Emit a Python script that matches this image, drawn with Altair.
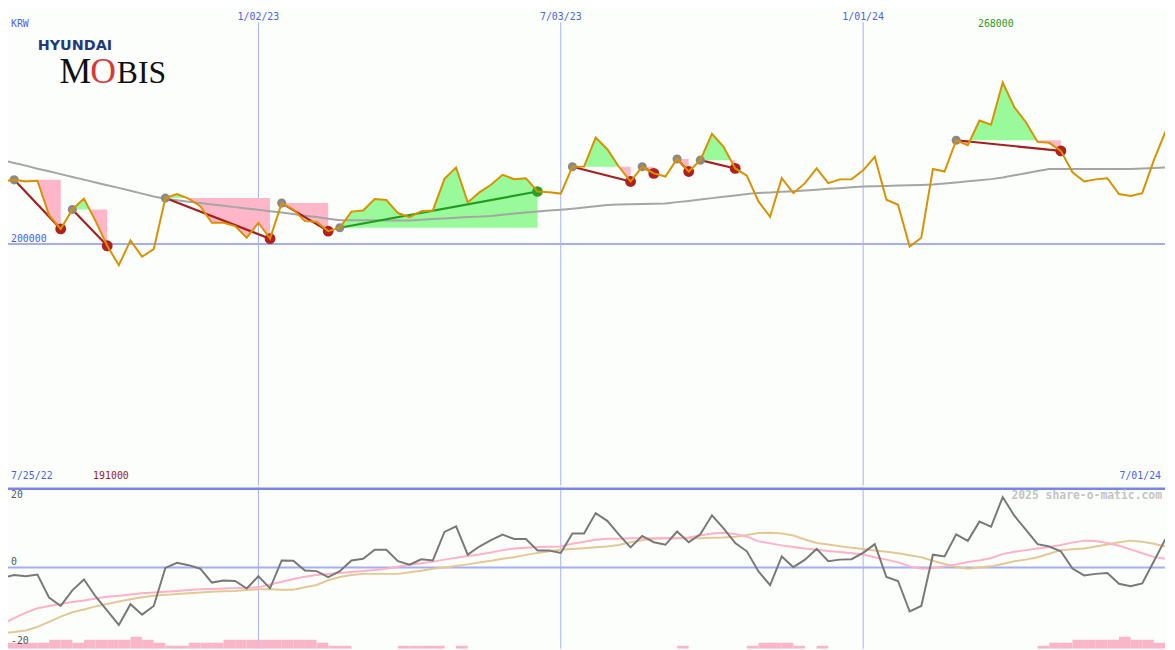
import altair as alt
import pandas as pd

# ---------------- data (weekly, 7/25/22 .. 7/01/24) ----------------
weeks = list(range(102))
price_k = [225.5, 226.3, 227.0, 226.3, 226.6, 212.1, 206.3, 214.5, 219.1, 209.6,
           199.2, 191.0, 201.5, 194.6, 197.8, 219.3, 221.0, 219.1, 215.9, 208.9,
           208.9, 207.5, 202.6, 208.9, 202.2, 217.2, 214.5, 209.6, 209.3, 205.4,
           206.8, 213.6, 214.1, 218.9, 218.5, 213.0, 211.3, 213.8, 214.1, 227.4,
           232.2, 217.5, 221.7, 224.9, 229.1, 227.3, 227.7, 222.1, 221.8, 221.2,
           232.5, 232.6, 244.8, 239.9, 232.5, 226.3, 232.5, 229.7, 228.4, 235.8,
           230.5, 235.3, 246.4, 240.9, 231.8, 228.8, 217.9, 211.4, 227.7, 221.4,
           225.6, 231.8, 225.6, 227.2, 227.2, 231.0, 236.7, 218.6, 216.5, 198.9,
           202.6, 231.6, 230.5, 243.7, 241.6, 252.0, 250.2, 268.0, 257.6, 251.3,
           243.0, 242.6, 239.2, 230.2, 226.3, 227.2, 227.7, 221.0, 220.2, 221.4,
           235.3, 247.4]
ma_k = [236.5, 235.3, 234.1, 233.0, 231.7, 230.6, 229.4, 228.2, 227.1, 225.9,
        224.7, 223.6, 222.4, 221.2, 220.0, 219.0, 218.4, 217.8, 217.2, 216.6,
        216.1, 215.5, 214.9, 214.4, 213.8, 213.2, 212.6, 211.9, 211.3, 210.6,
        210.0, 210.0, 210.0, 210.0, 209.9, 209.9, 209.9, 210.2, 210.5, 210.7,
        211.0, 211.3, 211.5, 211.8, 212.3, 212.8, 213.2, 213.7, 214.1, 214.4,
        214.8, 215.3, 215.9, 216.4, 216.6, 216.7, 216.8, 216.9, 217.0, 217.6,
        218.1, 218.7, 219.3, 219.9, 220.4, 221.0, 221.5, 221.7, 222.0, 222.2,
        222.5, 222.8, 223.2, 223.5, 223.9, 224.2, 224.3, 224.4, 224.6, 224.7,
        224.8, 225.0, 225.5, 225.9, 226.4, 226.8, 227.3, 228.0, 228.9, 229.8,
        230.7, 231.6, 231.6, 231.6, 231.6, 231.6, 231.6, 231.6, 231.6, 231.8,
        232.0, 232.2]
momentum = [-2.8, -2.6, -1.9, -2.2, -1.75, -7.6, -9.7, -5.75, -3.0, -7.3,
            -10.9, -14.5, -9.25, -11.9, -9.7, -0.1, 1.2, 0.6, -0.3, -3.8,
            -3.25, -3.4, -5.3, -2.2, -5.25, 1.8, 1.7, -0.75, -0.9, -2.4,
            -0.9, 1.8, 2.2, 4.5, 4.5, 1.6, 0.75, 2.1, 1.8, 9.0,
            10.4, 3.25, 5.3, 6.9, 8.3, 7.2, 7.2, 4.3, 4.3, 3.7,
            8.6, 8.6, 13.75, 11.8, 8.3, 5.1, 8.0, 6.4, 5.75, 9.1,
            6.4, 8.4, 13.2, 9.9, 6.2, 4.1, -1.0, -4.45, 2.8, 0.1,
            2.0, 4.7, 1.6, 2.0, 2.1, 3.7, 5.9, -2.4, -3.4, -11.1,
            -9.7, 3.25, 2.8, 8.4, 6.75, 11.6, 10.3, 17.8, 13.1, 9.5,
            5.9, 5.3, 4.1, -0.25, -2.0, -1.6, -1.4, -4.1, -4.7, -4.0,
            1.6, 7.25]
mom_fast = [-15.5, -14.2, -12.8, -11.4, -10.3, -9.7, -9.2, -8.7, -8.3, -7.8,
            -7.4, -7.1, -6.8, -6.5, -6.3, -6.1, -5.9, -5.7, -5.5, -5.4,
            -5.3, -5.2, -5.1, -5.0, -4.3, -3.6, -2.9, -2.3, -1.9, -1.6,
            -1.4, -1.1, -0.9, -0.6, -0.3, 0.2, 0.7, 1.1, 1.5, 2.0,
            2.5, 2.9, 3.3, 3.8, 4.4, 4.8, 5.0, 5.2, 5.25, 5.3,
            6.0, 6.5, 7.0, 7.25, 7.3, 7.4, 7.4, 7.4, 7.4, 7.4,
            7.6, 8.1, 8.6, 8.8, 8.5, 7.8, 6.6, 6.1, 5.6, 5.2,
            4.8, 4.5, 4.2, 3.9, 3.6, 3.3, 2.6, 2.0, 1.3, 0.3,
            -0.3, -0.1, 0.3, 0.8, 1.4, 1.8, 2.4, 3.4, 4.0, 4.4,
            4.8, 5.2, 5.7, 6.3, 6.8, 6.7, 6.2, 5.5, 4.6, 3.6,
            2.7, 2.2]
mom_slow = [-16.8, -16.6, -16.3, -15.9, -15.0, -13.7, -12.4, -11.3, -10.6, -9.8,
            -9.2, -8.6, -8.0, -7.5, -7.1, -6.9, -6.7, -6.5, -6.3, -6.1,
            -6.0, -5.9, -5.7, -5.5, -5.5, -5.6, -5.6, -5.0, -4.4, -3.2,
            -2.4, -1.9, -1.6, -1.6, -1.6, -1.6, -1.2, -0.8, -0.3, 0.0,
            0.4, 0.8, 1.3, 1.7, 2.2, 2.6, 3.2, 3.7, 4.1, 4.5,
            4.7, 4.9, 5.1, 5.3, 5.7, 6.4, 6.9, 7.3, 7.4, 7.4,
            7.4, 7.4, 7.5, 7.6, 7.8, 8.2, 8.7, 8.8, 8.6, 8.1,
            7.1, 6.2, 5.8, 5.4, 5.0, 4.7, 4.3, 4.0, 3.6, 3.1,
            2.6, 1.7, 0.9, 0.2, -0.3, 0.0, 0.3, 0.9, 1.6, 2.0,
            2.6, 3.5, 4.4, 4.6, 4.8, 5.3, 5.8, 6.4, 6.8, 6.5,
            6.0, 5.3]
bar_level = [2, 2, 2, 2, 2, 3, 3, 2, 3, 3,
             3, 3, 4, 3, 2, 1, 1, 2, 2, 2,
             3, 3, 3, 3, 3, 3, 3, 3, 2, 1,
             1, 0, 0, 0, 0, 1, 1, 1, 1, 0,
             1, 0, 0, 0, 0, 0, 0, 0, 0, 0,
             0, 0, 0, 0, 0, 0, 0, 0, 0, 1,
             0, 0, 0, 0, 0, 1, 2, 2, 2, 1,
             0, 1, 0, 0, 0, 0, 0, 0, 0, 0,
             0, 0, 0, 0, 0, 0, 0, 0, 0, 0,
             1, 2, 2, 3, 3, 3, 3, 4, 3, 3,
             2, 2]
seg_start = [2, 7, 15, 25, 30, 50, 56, 59, 61, 83]
seg_end = [6, 10, 24, 29, 47, 55, 57, 60, 64, 92]
grid_weeks = [23, 49, 75]
grid_labels = ["1/02/23", "7/03/23", "1/01/24"]
price_ticks = [200]
price_tick_labels = ["200000"]
first_label, last_label = "7/25/22", "7/01/24"
osc_labels = ["20", "0", "-20"]

# ---------------- layout ----------------
# The page has an 8px margin; a negative padding shifts the drawing so that
# chart coordinates coincide with window coordinates.
W, HT, HB = 1175, 487, 163
MONO = "DejaVu Sans Mono"
BG = "#fcfefc"
GRID = "#a4aef2"
SEP = "#7886e6"
BLUE_TXT = "#4c5ff0"
LX = 9  # left text inset (inside the visible area)

xs = alt.Scale(domain=[11.25 / 11.75, (1175 + 11.25) / 11.75], nice=False, zero=False)
ys_top = alt.Scale(domain=[98.206, 301.377], nice=False, zero=False)
ys_bot = alt.Scale(domain=[-20.5, 20.25], nice=False, zero=False)
ys_bar = alt.Scale(domain=[0, 163 / 3.0], nice=False, zero=False)


def X(f):
    return alt.X(f, type="quantitative", scale=xs, axis=None)


def YT(f):
    return alt.Y(f, type="quantitative", scale=ys_top, axis=None)


def YB(f):
    return alt.Y(f, type="quantitative", scale=ys_bot, axis=None)


df = pd.DataFrame({"w": weeks, "price": price_k, "ma": ma_k, "mom": momentum,
                   "fast": mom_fast, "slow": mom_slow, "level": bar_level})
grid_df = pd.DataFrame({"w": grid_weeks, "label": grid_labels})

# fills between the trend start level and the price line
fill_rows, seg_rows, dot_rows = [], [], []
for sid, (s, e) in enumerate(zip(seg_start, seg_end)):
    lvl = price_k[s]
    for k in range(s, e + 1):
        fill_rows.append({"seg": sid, "w": k, "p": price_k[k], "lvl": lvl})
        if k < e:
            a, b = price_k[k] - lvl, price_k[k + 1] - lvl
            if a * b < 0:
                fill_rows.append({"seg": sid, "w": k + a / (a - b), "p": lvl, "lvl": lvl})
    d = "up" if price_k[e] > price_k[s] else "down"
    seg_rows += [{"seg": sid, "w": s, "p": price_k[s], "dir": d},
                 {"seg": sid, "w": e, "p": price_k[e], "dir": d}]
    dot_rows += [{"w": s, "p": price_k[s], "kind": "start"},
                 {"w": e, "p": price_k[e], "kind": "end_" + d}]
fill = pd.DataFrame(fill_rows)
fill["hi"] = fill[["p", "lvl"]].max(axis=1)
fill["lo"] = fill[["p", "lvl"]].min(axis=1)
seg_df = pd.DataFrame(seg_rows)
dot_df = pd.DataFrame(dot_rows)

# ---------------- top panel ----------------
vrules_top = alt.Chart(grid_df).mark_rule(color=GRID, strokeWidth=1).encode(
    x=X("w"), y=alt.value(19), y2=alt.value(HT))
hline = alt.Chart(pd.DataFrame({"p": price_ticks, "label": price_tick_labels})).mark_rule(
    color=GRID, strokeWidth=2).encode(y=YT("p"))
green_fill = alt.Chart(fill).mark_area(color="#98fa98", opacity=1).encode(
    x=X("w"), y=YT("hi"), y2="lvl", detail="seg:N")
pink_fill = alt.Chart(fill).mark_area(color="#ffb6c8", opacity=1).encode(
    x=X("w"), y=YT("lo"), y2="lvl", detail="seg:N")
ma_line = alt.Chart(df).mark_line(color="#a5a5a5", strokeWidth=2, clip=True).encode(
    x=X("w"), y=YT("ma"))
trend_down = alt.Chart(seg_df).transform_filter("datum.dir == 'down'").mark_line(
    strokeWidth=2.2, color="#a51f1f").encode(x=X("w"), y=YT("p"), detail="seg:N")
trend_up = alt.Chart(seg_df).transform_filter("datum.dir == 'up'").mark_line(
    strokeWidth=2.2, color="#239b23").encode(x=X("w"), y=YT("p"), detail="seg:N")
dots_start = alt.Chart(dot_df).transform_filter("datum.kind == 'start'").mark_circle(
    opacity=1, color="#8a8a8a", size=85).encode(x=X("w"), y=YT("p"))
dots_down = alt.Chart(dot_df).transform_filter("datum.kind == 'end_down'").mark_circle(
    opacity=1, color="#b02020", size=120).encode(x=X("w"), y=YT("p"))
dots_up = alt.Chart(dot_df).transform_filter("datum.kind == 'end_up'").mark_circle(
    opacity=1, color="#2a9d2a", size=115).encode(x=X("w"), y=YT("p"))
price_line = alt.Chart(df).mark_line(color="#d99100", strokeWidth=2, clip=True).encode(
    x=X("w"), y=YT("price"))

date_txt = alt.Chart(grid_df).mark_text(font=MONO, fontSize=10, color=BLUE_TXT, baseline="middle").encode(
    x=X("w"), y=alt.value(13.5), text="label:N")
tick_txt = alt.Chart(pd.DataFrame({"p": price_ticks, "label": price_tick_labels})).mark_text(
    font=MONO, fontSize=10, color=BLUE_TXT, align="left", baseline="middle", dy=-5).encode(
    x=alt.value(LX), y=YT("p"), text="label:N")
krw_txt = alt.Chart(pd.DataFrame({"t": ["KRW"]})).mark_text(
    font=MONO, fontSize=10, color=BLUE_TXT, align="left", baseline="middle").encode(
    x=alt.value(LX), y=alt.value(21), text="t:N")
imax = price_k.index(max(price_k))
imin = price_k.index(min(price_k))
hi_df = pd.DataFrame({"w": [imax], "t": [str(int(round(max(price_k) * 1000)))]})
lo_df = pd.DataFrame({"w": [imin], "t": [str(int(round(min(price_k) * 1000)))]})
hi_txt = alt.Chart(hi_df).mark_text(font=MONO, fontSize=10, color="#2a9a2a", baseline="middle", dx=-7).encode(
    x=X("w"), y=alt.value(21), text="t:N")
lo_txt = alt.Chart(lo_df).mark_text(font=MONO, fontSize=10, color="#9b1c1c", baseline="middle", dx=-8).encode(
    x=X("w"), y=alt.value(478), text="t:N")
first_txt = alt.Chart(pd.DataFrame({"t": [first_label]})).mark_text(
    font=MONO, fontSize=10, color=BLUE_TXT, align="left", baseline="middle").encode(
    x=alt.value(LX), y=alt.value(478), text="t:N")
last_txt = alt.Chart(pd.DataFrame({"t": [last_label]})).mark_text(
    font=MONO, fontSize=10, color=BLUE_TXT, align="right", baseline="middle").encode(
    x=alt.value(1171), y=alt.value(478), text="t:N")

# logo (text stand-in)
logo1 = alt.Chart(pd.DataFrame({"t": ["HYUNDAI"]})).mark_text(
    font="DejaVu Sans", fontWeight="bold", fontSize=14.5, color="#22397f", align="left",
    baseline="alphabetic").encode(x=alt.value(36), y=alt.value(47.5), text="t:N")
logo_m = alt.Chart(pd.DataFrame({"t": ["M"]})).mark_text(
    font="Liberation Serif", fontSize=36, color="#111111", align="left", baseline="alphabetic").encode(
    x=alt.value(58), y=alt.value(80), text="t:N")
logo_o = alt.Chart(pd.DataFrame({"t": ["O"]})).mark_text(
    font="Liberation Serif", fontSize=36, color="#d9383a", align="left", baseline="alphabetic").encode(
    x=alt.value(89), y=alt.value(80), text="t:N")
logo_b = alt.Chart(pd.DataFrame({"t": ["BIS"]})).mark_text(
    font="Liberation Serif", fontSize=32, color="#111111", align="left", baseline="alphabetic").encode(
    x=alt.value(116), y=alt.value(80), text="t:N")

top = alt.layer(vrules_top, hline, green_fill, pink_fill, ma_line, trend_down, trend_up,
                dots_start, dots_down, dots_up, price_line,
                date_txt, tick_txt, krw_txt, hi_txt, lo_txt, first_txt, last_txt,
                logo1, logo_m, logo_o, logo_b).properties(width=W, height=HT)

# ---------------- bottom panel ----------------
vrules_bot = alt.Chart(grid_df).mark_rule(color=GRID, strokeWidth=1).encode(x=X("w"))
zero_line = alt.Chart(pd.DataFrame({"v": [0]})).mark_rule(color=GRID, strokeWidth=2).encode(y=YB("v"))
bars = alt.Chart(df).transform_filter("datum.level > 0").transform_calculate(
    w2="datum.w + 1").mark_rect(color="#f9b6c9", clip=True).encode(
    x=X("w"), x2="w2:Q",
    y=alt.Y("level:Q", scale=ys_bar, axis=None), y2=alt.datum(0))
slow_line = alt.Chart(df).mark_line(color="#e4c894", strokeWidth=2, clip=True).encode(x=X("w"), y=YB("slow"))
fast_line = alt.Chart(df).mark_line(color="#ffb2c6", strokeWidth=2, clip=True).encode(x=X("w"), y=YB("fast"))
mom_line = alt.Chart(df).mark_line(color="#787878", strokeWidth=2, clip=True).encode(x=X("w"), y=YB("mom"))
sep_line = alt.Chart(pd.DataFrame({"t": [0]})).mark_rule(color=SEP, strokeWidth=2.5).encode(
    x=alt.value(0), x2=alt.value(W), y=alt.value(1.3))
osc_txt = alt.Chart(pd.DataFrame({"t": osc_labels, "py": [495 - 487, 562 - 487, 642 - 487]})).mark_text(
    font=MONO, fontSize=10, color="#5a5a5a", align="left", baseline="middle").encode(
    x=alt.value(LX), y=alt.Y("py:Q", scale=None), text="t:N")
wm_txt = alt.Chart(pd.DataFrame({"t": ["2025 share-o-matic.com"]})).mark_text(
    font=MONO, fontSize=11.5, fontWeight="bold", color="#c4c4c4", align="right", baseline="middle").encode(
    x=alt.value(1172), y=alt.value(496 - 487), text="t:N")

bottom = alt.layer(vrules_bot, bars, zero_line, slow_line, fast_line, mom_line, sep_line,
                   osc_txt, wm_txt).resolve_scale(y="independent").properties(width=W, height=HB)

chart = alt.vconcat(top, bottom, spacing=0).properties(
    background=BG, padding={"left": -8, "top": -8, "right": 0, "bottom": 0}).configure_view(stroke=None)

chart.save("out.html", embed_options={"renderer": "svg", "actions": False})
